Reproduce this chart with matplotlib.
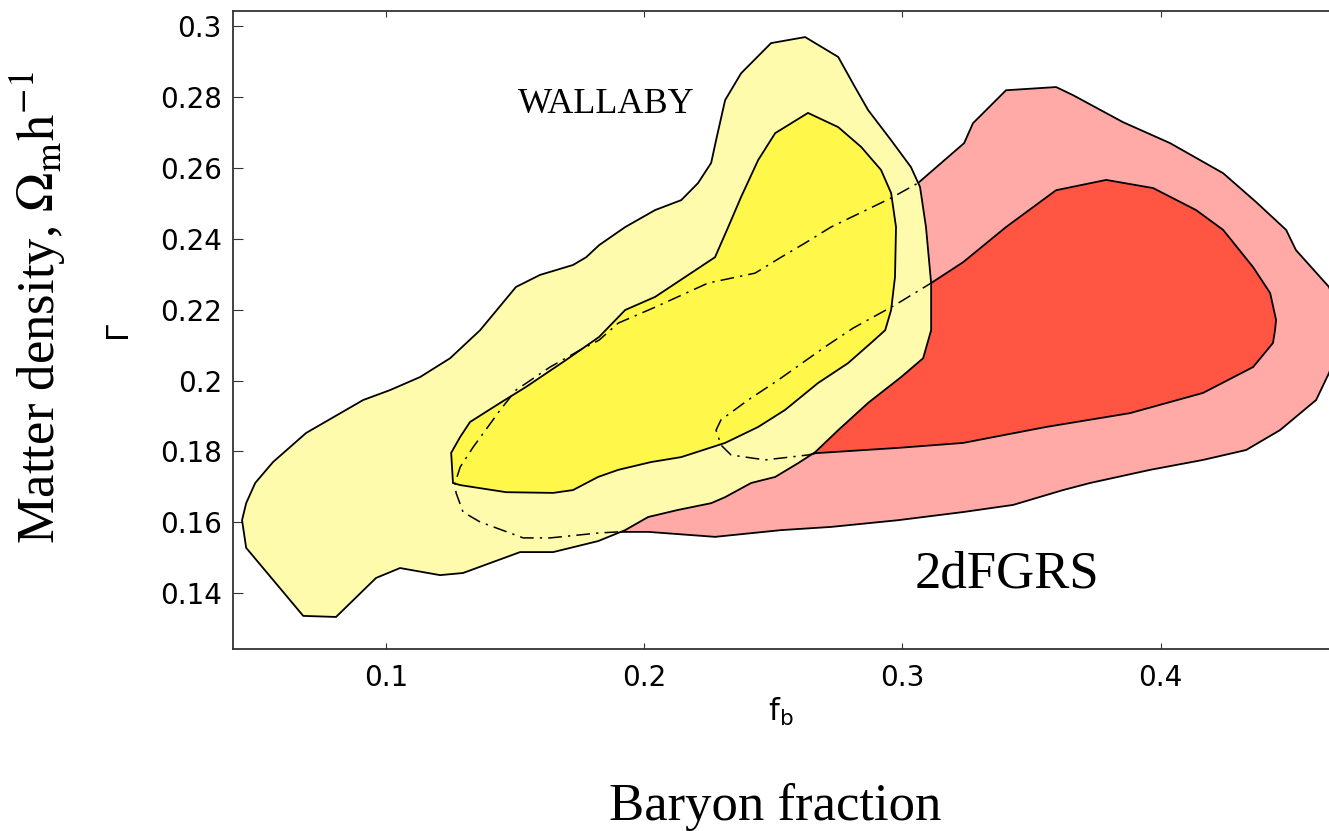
import matplotlib
matplotlib.use("Agg")
import matplotlib.pyplot as plt

# WALLABY 95% region (outer, light yellow)
wallaby_outer_fb = [0.0442, 0.0458, 0.0493, 0.0562, 0.0690, 0.0911, 0.1015, 0.1132, 0.1248, 0.1364,
                    0.1503, 0.1596, 0.1724, 0.1775, 0.1825, 0.1926, 0.2042, 0.2143, 0.2208, 0.2259,
                    0.2278, 0.2313, 0.2375, 0.2491, 0.2623, 0.2751, 0.2816, 0.2867, 0.2956, 0.3033,
                    0.3068, 0.3091, 0.3111, 0.3111, 0.3080, 0.2995, 0.2867, 0.2751, 0.2662, 0.2596,
                    0.2507, 0.2414, 0.2313, 0.2259, 0.2131, 0.2015, 0.1926, 0.1821, 0.1647, 0.1519,
                    0.1298, 0.1209, 0.1054, 0.0961, 0.0806, 0.0679, 0.0458]
wallaby_outer_gamma = [0.1606, 0.1654, 0.1711, 0.1770, 0.1852, 0.1945, 0.1973, 0.2010, 0.2063, 0.2142,
                       0.2264, 0.2298, 0.2326, 0.2348, 0.2382, 0.2433, 0.2481, 0.2509, 0.2557, 0.2614,
                       0.2678, 0.2791, 0.2867, 0.2952, 0.2969, 0.2913, 0.2828, 0.2763, 0.2678, 0.2602,
                       0.2546, 0.2433, 0.2275, 0.2142, 0.2063, 0.2010, 0.1937, 0.1860, 0.1798, 0.1767,
                       0.1728, 0.1711, 0.1671, 0.1654, 0.1635, 0.1615, 0.1578, 0.1547, 0.1516, 0.1516,
                       0.1457, 0.1451, 0.1471, 0.1443, 0.1333, 0.1336, 0.1528]

# WALLABY 68% region (inner, bright yellow)
wallaby_inner_fb = [0.1259, 0.1252, 0.1287, 0.1325, 0.1442, 0.1542, 0.1697, 0.1825, 0.1926, 0.2042,
                    0.2158, 0.2274, 0.2325, 0.2375, 0.2441, 0.2507, 0.2634, 0.2751, 0.2840, 0.2917,
                    0.2956, 0.2975, 0.2971, 0.2956, 0.2933, 0.2878, 0.2789, 0.2673, 0.2545, 0.2441,
                    0.2313, 0.2143, 0.2026, 0.1899, 0.1821, 0.1724, 0.1647, 0.1465, 0.1287]
wallaby_inner_gamma = [0.1711, 0.1796, 0.1841, 0.1883, 0.1937, 0.1982, 0.2058, 0.2123, 0.2199, 0.2236,
                       0.2292, 0.2348, 0.2433, 0.2518, 0.2622, 0.2698, 0.2755, 0.2715, 0.2659, 0.2594,
                       0.2529, 0.2433, 0.2292, 0.2199, 0.2142, 0.2106, 0.2049, 0.1993, 0.1917, 0.1869,
                       0.1824, 0.1784, 0.1770, 0.1748, 0.1728, 0.1691, 0.1683, 0.1685, 0.1705]

# 2dFGRS 95% region (outer, pink); first 24 points lie under the WALLABY regions
dfgrs_outer_fb = [0.1899, 0.1825, 0.1635, 0.1531, 0.1364, 0.1298, 0.1271, 0.1267, 0.1287, 0.1337,
                  0.1442, 0.1503, 0.1635, 0.1751, 0.1825, 0.1899, 0.2042, 0.2247, 0.2429, 0.2530,
                  0.2623, 0.2723, 0.2956, 0.3060,
                  0.3239, 0.3273, 0.3401, 0.3595, 0.3661, 0.3854, 0.4036, 0.4242, 0.4369, 0.4486,
                  0.4524, 0.4652, 0.4714, 0.4652, 0.4602, 0.4462, 0.4331, 0.4164, 0.3959, 0.3727,
                  0.3622, 0.3428, 0.3235, 0.2983, 0.2723, 0.2530, 0.2274, 0.2015]
dfgrs_outer_gamma = [0.1573, 0.1570, 0.1556, 0.1556, 0.1601, 0.1629, 0.1683, 0.1711, 0.1756, 0.1812,
                     0.1917, 0.1973, 0.2038, 0.2086, 0.2114, 0.2162, 0.2207, 0.2275, 0.2303, 0.2348,
                     0.2388, 0.2433, 0.2515, 0.2557,
                     0.2670, 0.2726, 0.2819, 0.2828, 0.2805, 0.2729, 0.2670, 0.2585, 0.2504, 0.2425,
                     0.2368, 0.2264, 0.2142, 0.2021, 0.1945, 0.1860, 0.1804, 0.1776, 0.1748, 0.1711,
                     0.1691, 0.1649, 0.1629, 0.1606, 0.1587, 0.1578, 0.1559, 0.1573]
dfgrs_outer_hidden = 24

# 2dFGRS 68% region (inner, red); first 13 points lie under the WALLABY regions
dfgrs_inner_fb = [0.2662, 0.2634, 0.2468, 0.2336, 0.2297, 0.2278, 0.2297, 0.2402, 0.2518, 0.2700,
                  0.2809, 0.2971, 0.3111,
                  0.3235, 0.3401, 0.3595, 0.3789, 0.3971, 0.4137, 0.4242, 0.4358, 0.4424, 0.4447,
                  0.4443, 0.4435, 0.4358, 0.4164, 0.3881, 0.3556, 0.3235, 0.2983]
dfgrs_inner_gamma = [0.1795, 0.1790, 0.1776, 0.1790, 0.1818, 0.1860, 0.1889, 0.1945, 0.2001, 0.2095,
                     0.2148, 0.2213, 0.2275,
                     0.2334, 0.2433, 0.2537, 0.2566, 0.2543, 0.2481, 0.2425, 0.2320, 0.2247, 0.2171,
                     0.2142, 0.2106, 0.2038, 0.1965, 0.1908, 0.1869, 0.1824, 0.1810]
dfgrs_inner_hidden = 13

x_ticks = [0.1, 0.2, 0.3, 0.4]
x_ticklabels = ["0.1", "0.2", "0.3", "0.4"]
y_ticks = [0.14, 0.16, 0.18, 0.2, 0.22, 0.24, 0.26, 0.28, 0.3]
y_ticklabels = ["0.14", "0.16", "0.18", "0.2", "0.22", "0.24", "0.26", "0.28", "0.3"]

W, H = 1329, 831
fig = plt.figure(figsize=(W / 100, H / 100), dpi=100)
ax = fig.add_axes([233 / W, (H - 648.5) / H, 1 - 233 / W, (648.5 - 10.5) / H])

edge = dict(edgecolor="black", linewidth=1.3)
ax.fill(dfgrs_outer_fb, dfgrs_outer_gamma, facecolor="#FFAAA7", zorder=1, **edge)
ax.fill(dfgrs_inner_fb, dfgrs_inner_gamma, facecolor="#FF5542", zorder=2, **edge)
ax.fill(wallaby_outer_fb, wallaby_outer_gamma, facecolor="#FFFBAC", zorder=3, **edge)
ax.fill(wallaby_inner_fb, wallaby_inner_gamma, facecolor="#FFF84A", zorder=4, **edge)

# hidden parts of the 2dFGRS contours, dash-dot over the yellow regions
dashdot = dict(color="black", linewidth=1.1, dashes=(9, 4, 1.5, 4), zorder=5)
ax.plot(dfgrs_outer_fb[:dfgrs_outer_hidden], dfgrs_outer_gamma[:dfgrs_outer_hidden], **dashdot)
ax.plot(dfgrs_inner_fb[:dfgrs_inner_hidden], dfgrs_inner_gamma[:dfgrs_inner_hidden], **dashdot)

ax.set_xlim(0.0407, 0.4652)
ax.set_ylim(0.1244, 0.3044)
ax.set_xticks(x_ticks, x_ticklabels)
ax.set_yticks(y_ticks, y_ticklabels)
ax.tick_params(direction="in", colors="#333333", labelcolor="black", labelsize=20)
ax.tick_params(axis="x", top=True, length=4.5, width=0.8, pad=11)
ax.tick_params(axis="y", right=False, length=7, width=0.8, pad=8)
for lab in ax.get_xticklabels() + ax.get_yticklabels():
    lab.set_family("DejaVu Sans")
for side in ["left", "bottom", "top"]:
    ax.spines[side].set_color("#333333")
    ax.spines[side].set_linewidth(1.3)
ax.spines["right"].set_visible(False)

ax.set_xlabel(r"$\mathrm{f}_\mathrm{b}$", fontsize=22, math_fontfamily="dejavusans")
ax.xaxis.set_label_coords(0.5, -0.075)
ax.set_ylabel("Γ", fontsize=22, family="DejaVu Sans")
ax.yaxis.set_label_coords(-0.092, 0.5)

serif = "Liberation Serif"
ax.text(518 / W, 1 - 113 / H, "WALLABY", transform=fig.transFigure, family=serif,
        fontsize=26, ha="left", va="baseline")
ax.text(915 / W, 1 - 587 / H, "2dFGRS", transform=fig.transFigure, family=serif,
        fontsize=38, ha="left", va="baseline")
fig.text(775 / W, 1 - 820 / H, "Baryon fraction", family=serif, fontsize=38,
         ha="center", va="baseline")
fig.text(38 / W, 1 - 308 / H, r"Matter density, $\Omega_\mathrm{m}\mathrm{h}^{-1}$",
         family=serif, fontsize=38, rotation=90, ha="center", va="center",
         math_fontfamily="stix")

fig.savefig("out.png", dpi=100)
